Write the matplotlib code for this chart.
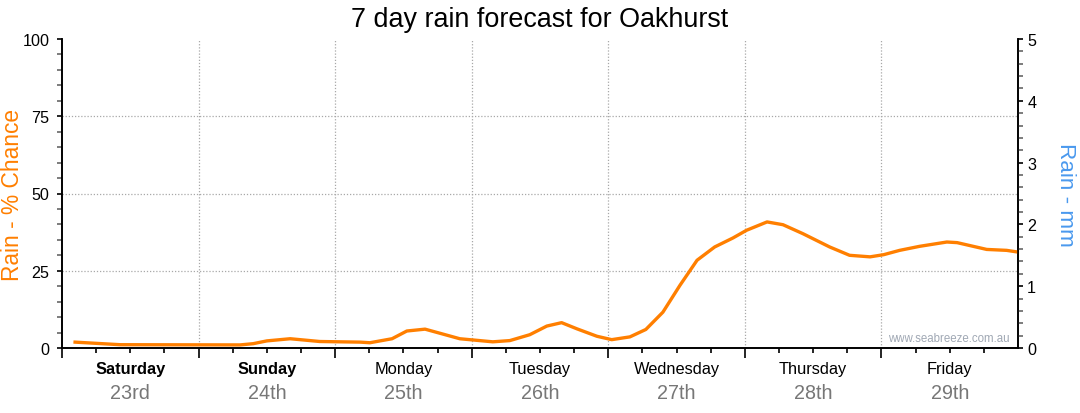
import matplotlib
matplotlib.use("Agg")
import matplotlib.pyplot as plt
from matplotlib.ticker import MultipleLocator, FixedLocator

plt.rcParams["font.family"] = ["Liberation Sans", "DejaVu Sans"]

# ---- data ----
hours = [2.3, 10.2, 31.3, 33.6, 36.0, 40.1, 45.3, 52.4, 54.1, 58.0, 60.6, 63.8,
         69.9, 75.7, 78.7, 82.2, 85.2, 87.8, 90.5, 94.0, 96.6, 99.8, 102.6,
         105.6, 108.6, 111.6, 114.7, 117.9, 120.3, 123.9, 126.7, 130.2, 134.9,
         138.4, 142.0, 144.4, 147.2, 150.7, 155.5, 157.3, 162.5, 166.0, 167.8]
chance = [1.9, 1.07, 1.0, 1.4, 2.3, 3.0, 2.1, 1.9, 1.7, 3.0, 5.5, 6.1,
          3.0, 2.0, 2.4, 4.3, 7.1, 8.2, 6.2, 3.8, 2.7, 3.6, 6.0,
          11.6, 20.3, 28.4, 32.7, 35.6, 38.1, 40.8, 39.9, 37.0, 32.7,
          30.0, 29.5, 30.2, 31.6, 32.9, 34.3, 34.1, 31.9, 31.6, 31.1]
day_names = ["Saturday", "Sunday", "Monday", "Tuesday", "Wednesday", "Thursday", "Friday"]
day_dates = ["23rd", "24th", "25th", "26th", "27th", "28th", "29th"]
weekend = [True, True, False, False, False, False, False]

title = "7 day rain forecast for Oakhurst"
orange = "#ff7f00"
blue = "#4a99ee"

fig = plt.figure(figsize=(10.8, 4.14), dpi=100)
ax = fig.add_axes([62/1080, 65/414, (1018-62)/1080, (349-40)/414])
ax2 = ax.twinx()

ax.plot(hours, chance, color=orange, lw=2.4, solid_joinstyle="round", zorder=5)

ax.set_xlim(0, 168)
ax.set_ylim(0, 100)
ax2.set_ylim(0, 5)

# grid
for h in range(24, 168, 24):
    ax.axvline(h, color="#a8a8a8", lw=0.9, ls=(0, (1, 1.5)), zorder=1)
for v in (25, 50, 75):
    ax.axhline(v, color="#a8a8a8", lw=0.9, ls=(0, (1, 1.5)), zorder=1)

# spines
for a in (ax, ax2):
    a.spines["top"].set_visible(False)
    for s in ("left", "right", "bottom"):
        a.spines[s].set_linewidth(1.2)
        a.spines[s].set_color("black")

# left ticks
ax.yaxis.set_major_locator(MultipleLocator(25))
ax.yaxis.set_minor_locator(MultipleLocator(5))
ax.tick_params(axis="y", which="major", length=3.6, width=1.2, color="black",
               labelsize=11.6, pad=5.5)
ax.tick_params(axis="y", which="minor", length=3.6, width=1.2, color="#666666")

# right ticks
ax2.yaxis.set_major_locator(MultipleLocator(1))
ax2.yaxis.set_minor_locator(MultipleLocator(0.2))
ax2.tick_params(axis="y", which="major", length=3.6, width=1.2, color="black",
                labelsize=11.6, pad=3)
ax2.tick_params(axis="y", which="minor", length=3.6, width=1.2, color="#666666")

# bottom ticks
ax.xaxis.set_major_locator(FixedLocator(list(range(0, 168, 24))))
ax.xaxis.set_minor_locator(FixedLocator([h for h in range(6, 168, 6) if h % 24]))
ax.tick_params(axis="x", which="major", length=7.2, width=1.2, color="black", labelbottom=False)
ax.tick_params(axis="x", which="minor", length=3.6, width=1.2, color="black")

# day labels
for i, (n, d) in enumerate(zip(day_names, day_dates)):
    xc = i * 24 + 12
    ax.annotate(n, xy=(xc, 0), xycoords=("data", "axes fraction"),
                xytext=(0, -21), textcoords="offset pixels", ha="center", va="center",
                fontsize=11.8, fontweight="bold" if weekend[i] else "normal", color="black")
    ax.annotate(d, xy=(xc, 0), xycoords=("data", "axes fraction"),
                xytext=(0, -45), textcoords="offset pixels", ha="center", va="center",
                fontsize=14.2, color="#777777")

fig.text(0.5, 1 - 27/414, title, fontsize=19.4, ha="center", va="baseline", color="black")
ax.set_ylabel("Rain - % Chance", color=orange, fontsize=16.4, va="center")
ax.yaxis.set_label_coords((13 - 62) / 956, 0.5)
ax2.set_ylabel("Rain - mm", color=blue, fontsize=16.2, rotation=270, va="center")
ax2.yaxis.set_label_coords((1065 - 62) / 956, 0.5)

ax.text(0.9916, 0.032, "www.seabreeze.com.au", transform=ax.transAxes, ha="right",
        va="center", fontsize=8.3, color="#a0a8b4")

fig.savefig("out.png", dpi=100)
